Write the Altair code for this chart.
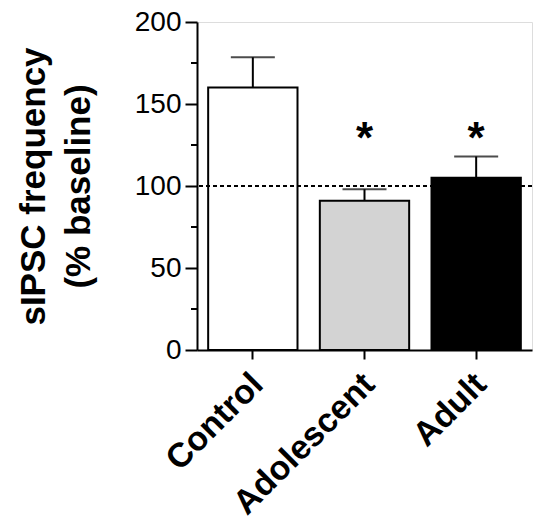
import altair as alt
import pandas as pd

groups = ["Control", "Adolescent", "Adult"]
means = [160, 91, 105]
errors = [18.5, 7, 13]
signif = ["", "*", "*"]
bar_colors = ["#ffffff", "#d3d3d3", "#000000"]
y_ticks = [0, 50, 100, 150, 200]
y_minor = [25, 75, 125, 175]
baseline = 100
star_level = 120

df = pd.DataFrame({
    "group": groups,
    "mean": means,
    "upper": [m + e for m, e in zip(means, errors)],
    "sig": signif,
})
df["star_y"] = star_level
minor_df = pd.DataFrame({"v": y_minor})
base_df = pd.DataFrame({"b": [baseline]})

FONT = "Liberation Sans"

x = alt.X(
    "group:N",
    sort=groups,
    scale=alt.Scale(paddingInner=0.2, paddingOuter=0.1),
    axis=alt.Axis(
        title=None,
        labelAngle=-45,
        labelAlign="right",
        labelBaseline="middle",
        labelFontSize=34,
        labelFontWeight="bold",
        labelFont=FONT,
        labelColor="black",
        labelLimit=0,
        labelPadding=20,
        labelOffset=5,
        tickSize=9,
        tickWidth=2,
        tickColor="black",
        domainWidth=2,
        domainColor="black",
    ),
)

yscale = alt.Scale(domain=[0, 200], nice=False)

bars = alt.Chart(df).mark_bar(stroke="black", strokeWidth=2).encode(
    x=x,
    y=alt.Y(
        "mean:Q",
        scale=yscale,
        axis=alt.Axis(
            values=y_ticks,
            title=["sIPSC frequency", "(% baseline)"],
            titleFontSize=35,
            titleFontWeight="bold",
            titleFont=FONT,
            titleColor="black",
            titleLineHeight=45,
            titleAngle=-90,
            titleAlign="center",
            titleBaseline="middle",
            titleX=-164,
            titleY=164,
            labelFontSize=28,
            labelFont=FONT,
            labelColor="black",
            labelPadding=4,
            tickSize=12,
            tickWidth=2,
            tickColor="black",
            domainWidth=2,
            domainColor="black",
            grid=False,
        ),
    ),
    color=alt.Color("group:N", scale=alt.Scale(domain=groups, range=bar_colors), legend=None),
)

stems = alt.Chart(df).mark_rule(color="black", strokeWidth=2).encode(
    x=alt.X("group:N", sort=groups),
    y=alt.Y("mean:Q", scale=yscale),
    y2="upper:Q",
)

caps = alt.Chart(df).mark_tick(color="black", size=44, thickness=2).encode(
    x=alt.X("group:N", sort=groups),
    y=alt.Y("upper:Q", scale=yscale),
)

stars = alt.Chart(df).mark_text(fontSize=44, font=FONT, fontWeight="bold", color="black", baseline="alphabetic").encode(
    x=alt.X("group:N", sort=groups),
    y=alt.Y("star_y:Q", scale=yscale),
    text="sig:N",
)

minor = alt.Chart(minor_df).mark_rule(color="black", strokeWidth=2).encode(
    y=alt.Y("v:Q", scale=yscale),
    x=alt.value(-6),
    x2=alt.value(0),
)

dotted = alt.Chart(base_df).mark_rule(color="black", strokeWidth=2, strokeDash=[4, 3]).encode(
    y=alt.Y("b:Q", scale=yscale),
)

chart = alt.layer(bars, stems, caps, dotted, stars, minor).properties(
    width=335,
    height=328,
    autosize="none",
    padding={"left": 197, "top": 22, "right": 19, "bottom": 181},
).configure_view(stroke=None).configure(font=FONT)

chart.save("out.html", embed_options={"renderer": "svg", "actions": False})
